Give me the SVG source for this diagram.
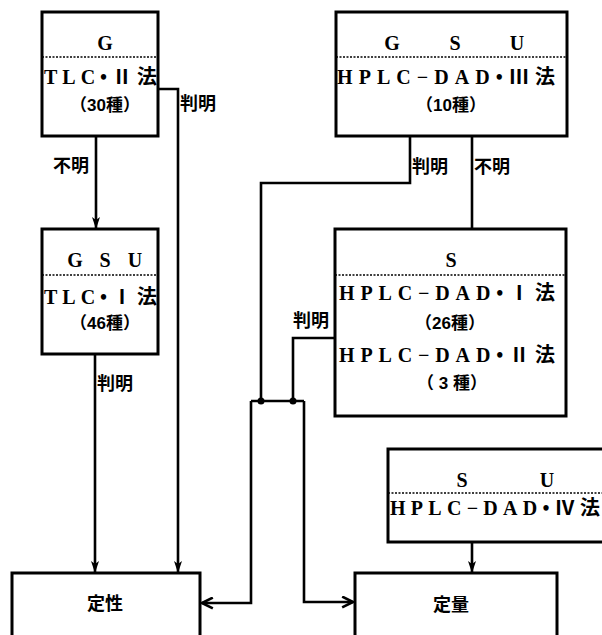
<svg xmlns="http://www.w3.org/2000/svg" width="602" height="635" viewBox="0 0 602 635">
<defs>
<style>
.box{fill:#fff;stroke:#000;stroke-width:3}
.sep{stroke:#000;stroke-width:1.5;stroke-dasharray:2,1.5}
.ln{fill:none;stroke:#000;stroke-width:2.6}
.t{font-family:"Liberation Serif","Noto Sans CJK JP",serif;font-weight:bold;font-size:20px;fill:#000}
.n{font-family:"Liberation Sans","Noto Sans CJK JP",sans-serif;font-weight:bold;font-size:17px;fill:#000;text-anchor:middle}
.c{font-family:"Noto Sans CJK JP","Noto Sans CJK SC",sans-serif;font-weight:bold;font-size:18px;fill:#000}
.m{text-anchor:middle}
</style>
<marker id="ad" viewBox="0 0 12 10" refX="11" refY="5" markerWidth="12" markerHeight="10" markerUnits="userSpaceOnUse" orient="auto">
<path d="M0,1 L12,5 L0,9 L3,5 Z" fill="#000"/>
</marker>
<marker id="ao" viewBox="0 0 12 12" refX="11" refY="6" markerWidth="13" markerHeight="13" markerUnits="userSpaceOnUse" orient="auto">
<path d="M1,1 L11,6 L1,11" fill="none" stroke="#000" stroke-width="2.4"/>
</marker>
</defs>
<rect width="602" height="635" fill="#fff"/>

<g id="connectors">
<path class="ln" d="M96,136 V228" marker-end="url(#ad)"/>
<path class="ln" d="M158,89 H178 V572" marker-end="url(#ad)"/>
<path class="ln" d="M95,354 V572" marker-end="url(#ad)"/>
<path class="ln" d="M410,136 V183 H261 V401"/>
<path class="ln" d="M472,136 V229"/>
<path class="ln" d="M335,338 H293 V401"/>
<path class="ln" d="M251,401 H304"/>
<path class="ln" d="M251,401 V603 H202" marker-end="url(#ao)"/>
<path class="ln" d="M304,401 V602 H353" marker-end="url(#ao)"/>
<path class="ln" d="M472,542 V572" marker-end="url(#ad)"/>
<circle cx="261" cy="401" r="3.5" fill="#000"/>
<circle cx="293" cy="401" r="3.5" fill="#000"/>
<text class="c" x="180" y="110">判明</text>
<text class="c" x="53" y="172">不明</text>
<text class="c" x="97" y="390">判明</text>
<text class="c" x="412" y="173">判明</text>
<text class="c" x="474" y="173">不明</text>
<text class="c" x="293" y="327">判明</text>
</g>

<g id="node-tlc2">
<rect class="box" x="42" y="12" width="116" height="124"/>
<line class="sep" x1="42" y1="57" x2="158" y2="57"/>
<text class="t m" x="105" y="50">G</text>
<text class="t" x="44" y="84" textLength="113" lengthAdjust="spacing">TLC•Ⅱ法</text>
<text class="n" x="105" y="111">（30種）</text>
</g>

<g id="node-tlc1">
<rect class="box" x="42" y="229" width="116" height="125"/>
<line class="sep" x1="42" y1="275" x2="158" y2="275"/>
<text class="t m" y="267"><tspan x="75">G</tspan><tspan x="105">S</tspan><tspan x="135">U</tspan></text>
<text class="t" x="44" y="304" textLength="113" lengthAdjust="spacing">TLC•Ⅰ法</text>
<text class="n" x="105" y="329">（46種）</text>
</g>

<g id="node-hplc3">
<rect class="box" x="336" y="12" width="231" height="124"/>
<line class="sep" x1="336" y1="57" x2="567" y2="57"/>
<text class="t m" y="50"><tspan x="392">G</tspan><tspan x="455">S</tspan><tspan x="517">U</tspan></text>
<text class="t" x="337" y="84" textLength="218" lengthAdjust="spacing">HPLC−DAD•Ⅲ法</text>
<text class="n" x="451" y="111">（10種）</text>
</g>

<g id="node-hplc12">
<rect class="box" x="335" y="229" width="231" height="187"/>
<line class="sep" x1="335" y1="275" x2="566" y2="275"/>
<text class="t m" x="451" y="267">S</text>
<text class="t" x="339" y="300" textLength="216" lengthAdjust="spacing">HPLC−DAD•Ⅰ法</text>
<text class="n" x="450" y="329">（26種）</text>
<text class="t" x="339" y="362" textLength="216" lengthAdjust="spacing">HPLC−DAD•Ⅱ法</text>
<text class="n" x="452" y="389">（ 3 種）</text>
</g>

<g id="node-hplc4">
<rect class="box" x="388" y="449" width="230" height="93"/>
<line class="sep" x1="388" y1="493" x2="602" y2="493"/>
<text class="t m" y="487"><tspan x="462">S</tspan><tspan x="547">U</tspan></text>
<text class="t" x="390" y="515" textLength="210" lengthAdjust="spacing">HPLC−DAD•Ⅳ法</text>
</g>

<g id="node-qualitative">
<rect class="box" x="12" y="573" width="188" height="70"/>
<text class="c m" x="105" y="610">定性</text>
</g>

<g id="node-quantitative">
<rect class="box" x="355" y="573" width="202" height="70"/>
<text class="c m" x="451" y="611">定量</text>
</g>
</svg>
